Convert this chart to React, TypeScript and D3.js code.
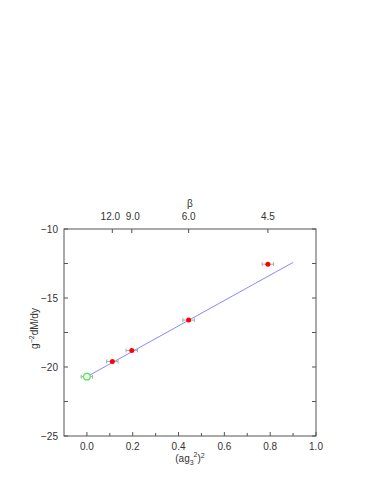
import React, { useEffect, useRef } from "react";
import * as d3 from "d3";

// lattice points: (a g3^2)^2, g^-2 dM/dy, x-error
const xs = [0.111, 0.196, 0.444, 0.79];
const ys = [-19.6, -18.8, -16.6, -12.55];
const xErr = [0.025, 0.025, 0.025, 0.025];
const betaLabels = ["12.0", "9.0", "6.0", "4.5"];
// continuum extrapolation
const contX = [0];
const contY = [-20.7];
const fitX = [0, 0.9];
const fitY = [-20.7, -12.42];
const xTicks = [0, 0.2, 0.4, 0.6, 0.8, 1.0];
const yTicks = [-10, -15, -20, -25];

export default function App() {
  const ref = useRef<SVGSVGElement | null>(null);

  useEffect(() => {
    const svg = d3.select(ref.current);
    svg.selectAll("*").remove();

    const left = 64, right = 316, top = 229, bottom = 436;
    const x = d3.scaleLinear().domain([-0.1, 1.0]).range([left, right]);
    const y = d3.scaleLinear().domain([-25, -10]).range([bottom, top]);
    const font = "Liberation Sans, Arial, sans-serif";
    const tick = 4;

    svg.append("rect")
      .attr("x", left).attr("y", top)
      .attr("width", right - left).attr("height", bottom - top)
      .attr("fill", "none").attr("stroke", "#555").attr("stroke-width", 1);

    const g = svg.append("g").attr("stroke", "#555").attr("stroke-width", 1);
    // x ticks bottom (major + minor)
    d3.range(0, 11).map((i) => i / 10).forEach((v) => {
      g.append("line").attr("x1", x(v)).attr("x2", x(v))
        .attr("y1", bottom).attr("y2", bottom - (Math.round(v * 10) % 2 === 0 ? tick : tick - 1));
    });
    // y ticks left/right
    d3.range(-25, -9.9, 2.5).forEach((v) => {
      g.append("line").attr("x1", left).attr("x2", left + tick).attr("y1", y(v)).attr("y2", y(v));
      g.append("line").attr("x1", right).attr("x2", right - tick).attr("y1", y(v)).attr("y2", y(v));
    });
    // beta ticks on top
    xs.forEach((v) => {
      g.append("line").attr("x1", x(v)).attr("x2", x(v)).attr("y1", top).attr("y2", top + tick);
    });

    const t = svg.append("g").attr("font-family", font).attr("font-size", 10).attr("fill", "#333");
    xTicks.forEach((v) => {
      t.append("text").attr("x", x(v)).attr("y", bottom + 14).attr("text-anchor", "middle").text(d3.format(".1f")(v));
    });
    yTicks.forEach((v) => {
      t.append("text").attr("x", left - 6).attr("y", y(v) + 3.5).attr("text-anchor", "end").text(String(v).replace("-", "\u2212"));
    });
    xs.forEach((v, i) => {
      t.append("text").attr("x", x(v) + (i === 0 ? -2 : i === 1 ? 1 : 0)).attr("y", top - 9).attr("text-anchor", "middle").text(betaLabels[i]);
    });
    t.append("text").attr("x", (left + right) / 2).attr("y", 207).attr("text-anchor", "middle").text("\u03b2");

    // x label (ag3^2)^2
    const xl = t.append("text").attr("x", (left + right) / 2).attr("y", bottom + 26).attr("text-anchor", "middle");
    xl.append("tspan").text("(ag");
    xl.append("tspan").attr("font-size", 7).attr("dy", 3).text("3");
    xl.append("tspan").attr("font-size", 7).attr("dy", -8).text("2");
    xl.append("tspan").attr("dy", 5).text(")");
    xl.append("tspan").attr("font-size", 7).attr("dy", -4).text("2");

    // y label g^-2 dM/dy
    const yl = t.append("text")
      .attr("transform", `translate(38,${(top + bottom) / 2 - 4}) rotate(-90)`)
      .attr("text-anchor", "middle");
    yl.append("tspan").text("g");
    yl.append("tspan").attr("font-size", 7).attr("dy", -4).text("\u22122");
    yl.append("tspan").attr("dy", 4).text("dM/dy");

    // fit line
    const line = d3.line<number>().x((d) => x(fitX[d])).y((d) => y(fitY[d]));
    svg.append("path").attr("d", line([0, 1]) as string)
      .attr("fill", "none").attr("stroke", "#8888ff").attr("stroke-width", 1);

    // error bars
    const eb = svg.append("g").attr("stroke", "#aaa").attr("stroke-width", 1);
    const drawErr = (xv: number, yv: number, e: number) => {
      eb.append("line").attr("x1", x(xv - e)).attr("x2", x(xv + e)).attr("y1", y(yv)).attr("y2", y(yv));
      [xv - e, xv + e].forEach((c) => {
        eb.append("line").attr("x1", x(c)).attr("x2", x(c)).attr("y1", y(yv) - 2).attr("y2", y(yv) + 2);
      });
    };
    xs.forEach((v, i) => drawErr(v, ys[i], xErr[i]));
    contX.forEach((v, i) => drawErr(v, contY[i], 0.025));

    svg.append("g").selectAll("circle").data(xs).join("circle")
      .attr("cx", (d) => x(d)).attr("cy", (d, i) => y(ys[i])).attr("r", 2.5)
      .attr("fill", "#ff0000");
    svg.append("g").selectAll("circle").data(contX).join("circle")
      .attr("cx", (d) => x(d)).attr("cy", (d, i) => y(contY[i])).attr("r", 3.3)
      .attr("fill", "white").attr("stroke", "#44ee44").attr("stroke-width", 1.2);
  }, []);

  return (
    <svg ref={ref} width={382} height={494} style={{ position: "absolute", left: 0, top: 0 }} />
  );
}
